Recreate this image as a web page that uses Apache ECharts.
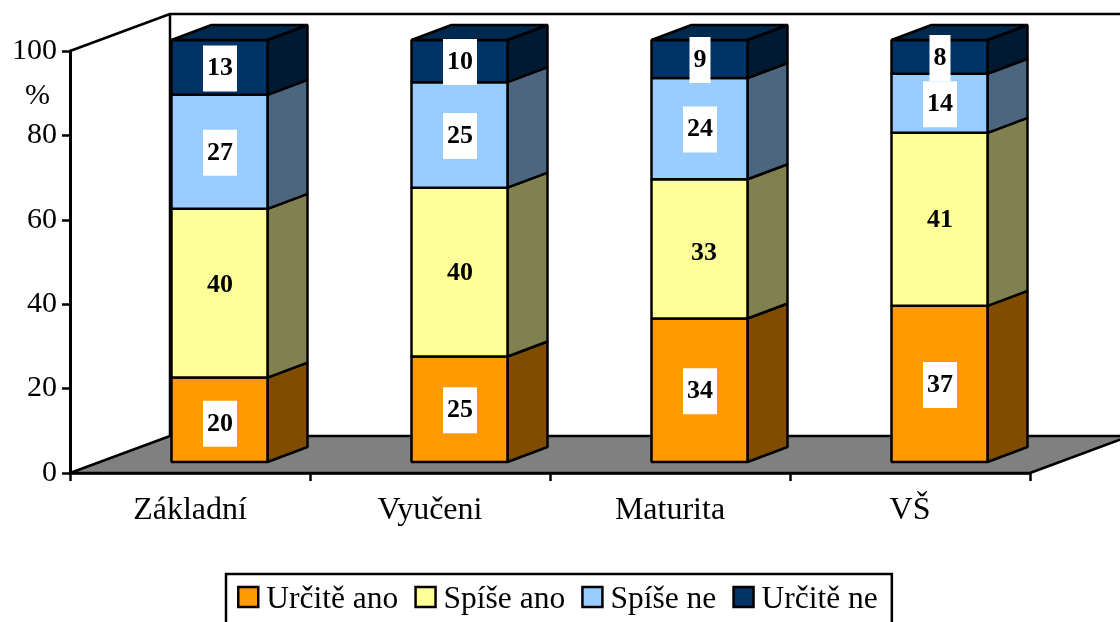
<!DOCTYPE html>
<html><head><meta charset="utf-8">
<style>html,body{margin:0;padding:0;background:#fff;overflow:hidden}#c{width:1120px;height:622px}</style>
<script src="https://cdn.jsdelivr.net/npm/echarts@6/dist/echarts.min.js"></script>
</head><body><div id="c"></div>
<script>
const categories = ['Základní', 'Vyučeni', 'Maturita', 'VŠ'];
const urciteAno = [20, 25, 34, 37];
const spiseAno = [40, 40, 33, 41];
const spiseNe = [27, 25, 24, 14];
const urciteNe = [13, 10, 9, 8];
const yTicks = [0, 20, 40, 60, 80, 100];

const FONT = '"Liberation Serif","Times New Roman",serif';
const front = {dx: 29.5, dy: -11, half: 48};
const depth = {dx: 40, dy: -15};
const wall = {dx: 100, dy: -37};
const line = {stroke: '#000', lineWidth: 2.5, lineJoin: 'bevel'};

const defs = [
  {name: 'Určitě ano', values: urciteAno, color: '#FF9900', side: '#804D00', top: '#FF9900', box: true, nudge: {0: [0, 3]}},
  {name: 'Spíše ano', values: spiseAno, color: '#FFFF99', side: '#808050', top: '#FFFF99', box: false, nudge: {0: [0, -9], 2: [4, 3]}},
  {name: 'Spíše ne', values: spiseNe, color: '#99CCFF', side: '#4D6680', top: '#99CCFF', box: true, nudge: {}},
  {name: 'Určitě ne', values: urciteNe, color: '#003366', side: '#001A33', top: '#00294F', box: true, nudge: {}}
];
const running = categories.map(() => 0);
const barSeries = defs.map((d, si) => {
  const data = d.values.map((v, i) => {
    const row = [i, running[i], running[i] + v, v];
    running[i] += v;
    return row;
  });
  return {
    type: 'custom', name: d.name, z: 3 + si,
    itemStyle: {color: d.color},
    encode: {x: 0, y: 2},
    data,
    renderItem(params, api) {
      const base = api.coord([api.value(0), api.value(1)]);
      const head = api.coord([api.value(0), api.value(2)]);
      const cx = base[0] + front.dx;
      const l = cx - front.half, r = cx + front.half;
      const y0 = base[1] + front.dy, y1 = head[1] + front.dy;
      const kids = [
        {type: 'polygon', shape: {points: [[r, y0], [r + depth.dx, y0 + depth.dy], [r + depth.dx, y1 + depth.dy], [r, y1]]},
          style: Object.assign({fill: d.side}, line)},
        {type: 'rect', shape: {x: l, y: y1, width: r - l, height: y0 - y1},
          style: Object.assign({fill: d.color}, line)}
      ];
      if (si === defs.length - 1) {
        kids.push({type: 'polygon', shape: {points: [[l, y1], [l + depth.dx, y1 + depth.dy], [r + depth.dx, y1 + depth.dy], [r, y1]]},
          style: Object.assign({fill: d.top}, line)});
      }
      const nudge = d.nudge[api.value(0)] || [0, 0];
      const labelStyle = {text: String(api.value(3)), font: 'bold 26px ' + FONT, fill: '#000',
        align: 'center', verticalAlign: 'middle', padding: [11, 4, 9, 4]};
      if (d.box) labelStyle.backgroundColor = '#fff';
      kids.push({type: 'text', z2: 50, x: cx + 0.5 + nudge[0], y: (y0 + y1) / 2 + 1 + nudge[1], style: labelStyle});
      return {type: 'group', children: kids};
    }
  };
});

const shell = {
  type: 'custom', name: 'stena', z: 1, silent: true,
  data: [[0]],
  renderItem(params, api) {
    const o = api.coord([0, 0]), t = api.coord([0, 100]);
    const s = api.size([1, 0]);
    const left = o[0] - s[0] / 2, right = left + s[0] * categories.length;
    const y0 = o[1], y1 = t[1];
    const bx = left + wall.dx, by = y0 + wall.dy, ty = y1 + wall.dy;
    return {type: 'group', children: [
      {type: 'polygon', shape: {points: [[left, y0], [bx, by], [right + wall.dx, by], [right, y0]]},
        style: Object.assign({fill: '#808080'}, line)},
      {type: 'polyline', shape: {points: [[left, y1], [bx, ty], [right + wall.dx, ty]]},
        style: Object.assign({fill: 'none'}, line)},
      {type: 'line', shape: {x1: bx, y1: ty, x2: bx, y2: by}, style: line}
    ]};
  }
};

const chart = echarts.init(document.getElementById('c'), null, {renderer: 'canvas'});
chart.setOption({
  animation: false,
  backgroundColor: '#fff',
  title: {text: '%', left: 25, top: 81, padding: 0,
    textStyle: {fontFamily: FONT, fontSize: 30, fontWeight: 'normal', color: '#000'}},
  legend: {
    left: 226, top: 574, orient: 'horizontal', selectedMode: false,
    data: defs.map(d => d.name),
    padding: [10, 14, 30, 11],
    itemWidth: 20, itemHeight: 20, itemGap: 16, icon: 'rect',
    borderColor: '#000', borderWidth: 2.5, backgroundColor: '#fff',
    itemStyle: {borderColor: '#000', borderWidth: 2.5},
    formatter: n => '{t|' + n + '}',
    textStyle: {rich: {t: {fontFamily: FONT, fontSize: 31.5, color: '#000', padding: [6, 0, 0, 3]}}}
  },
  grid: {left: 70, right: 90, top: 51, bottom: 149, containLabel: false},
  xAxis: {
    type: 'category', data: categories, z: 10,
    axisLine: {lineStyle: {color: '#000', width: 2.5}},
    axisTick: {show: true, length: 8, lineStyle: {color: '#000', width: 2.5}, alignWithLabel: false},
    axisLabel: {fontFamily: FONT, fontSize: 32, color: '#000', margin: 22}
  },
  yAxis: {
    type: 'value', min: 0, max: 100, interval: 20, z: 10,
    splitLine: {show: false},
    axisLine: {show: true, lineStyle: {color: '#000', width: 3}},
    axisTick: {show: true, length: 8, lineStyle: {color: '#000', width: 2.5}},
    axisLabel: {fontFamily: FONT, fontSize: 30, color: '#000', margin: 13, padding: [3, 0, 0, 0],
      formatter: v => yTicks.includes(v) ? String(v) : ''}
  },
  series: [shell].concat(barSeries)
});
</script></body></html>
